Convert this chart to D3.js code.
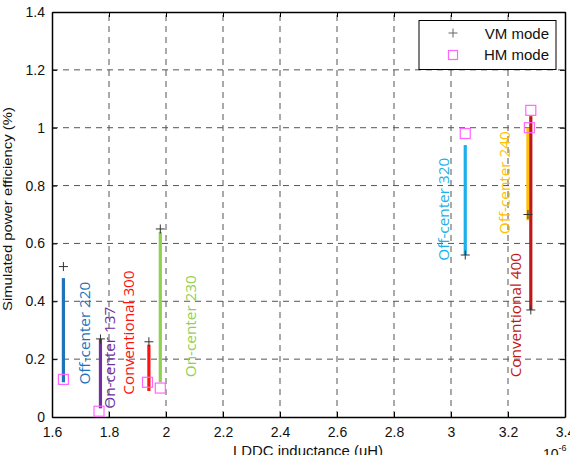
<!DOCTYPE html>
<html><head><meta charset="utf-8">
<script src="https://cdn.jsdelivr.net/npm/d3@7"></script>
<style>
html,body{margin:0;padding:0;background:#fff;overflow:hidden}
svg{display:block}
</style></head>
<body>
<script>
// ---- data ----
const designs = ["Off-center 220","On-center 137","Conventional 300","On-center 230","Off-center 320","Off-center 240","Conventional 400"];
const colors = ["#1f73ba","#7030a0","#ff1010","#92d050","#1cb0ea","#ffc000","#c01818"];
const inductance = [1.64, 1.77, 1.94, 1.98, 3.05, 3.27, 3.28];   // x 1e-6 H
const vmMode = [0.52, 0.27, 0.26, 0.65, 0.56, 0.70, 0.37];
const hmMode = [0.13, 0.02, 0.12, 0.10, 0.98, 1.00, 1.06];
const hmX    = [1.64, 1.765, 1.935, 1.98, 3.05, 3.275, 3.28];
const lineLo = [0.12, 0.03, 0.09, 0.12, 0.56, 0.68, 0.37];
const lineHi = [0.48, 0.27, 0.25, 0.64, 0.94, 1.00, 1.04];
const lineX  = [1.64, 1.77, 1.94, 1.98, 3.05, 3.27, 3.28];
// annotation anchors (data units)
const labelX = [1.712, 1.80, 1.867, 2.084, 2.972, 3.186, 3.225];
const labelY = [0.29, 0.205, 0.292, 0.314, 0.718, 0.81, 0.352];
const xTicks = [1.6,1.8,2,2.2,2.4,2.6,2.8,3,3.2,3.4];
const xTickLabels = ["1.6","1.8","2","2.2","2.4","2.6","2.8","3","3.2","3.4"];
const yTicks = [0,0.2,0.4,0.6,0.8,1,1.2,1.4];
const yTickLabels = ["0","0.2","0.4","0.6","0.8","1","1.2","1.4"];

const W = 570, H = 455;
const m = {left:52, right:565, top:12, bottom:417};
const svg = d3.select("body").append("svg").attr("width",W).attr("height",H);
const x = d3.scaleLinear().domain([1.6,3.4]).range([m.left,m.right]);
const y = d3.scaleLinear().domain([0,1.4]).range([m.bottom,m.top]);

const font = "'Liberation Sans', Arial, sans-serif";
// grid
const grid = svg.append("g").attr("stroke","#555").attr("stroke-width",1).attr("stroke-dasharray","6,5");
xTicks.slice(1,-1).forEach(t=>grid.append("line").attr("x1",x(t)).attr("x2",x(t)).attr("y1",m.bottom).attr("y2",m.top));
yTicks.slice(1,-1).forEach(t=>grid.append("line").attr("y1",y(t)).attr("y2",y(t)).attr("x1",m.left).attr("x2",m.right));

// axes
const axB = d3.axisBottom(x).tickValues(xTicks).tickFormat((d,i)=>xTickLabels[i]).tickSizeInner(-5).tickSizeOuter(0).tickPadding(10);
const axL = d3.axisLeft(y).tickValues(yTicks).tickFormat((d,i)=>yTickLabels[i]).tickSizeInner(-5).tickSizeOuter(0).tickPadding(7);
const axT = d3.axisTop(x).tickValues(xTicks).tickFormat("").tickSizeInner(-5).tickSizeOuter(0);
const axR = d3.axisRight(y).tickValues(yTicks).tickFormat("").tickSizeInner(-5).tickSizeOuter(0);
[[axB,`translate(0,${m.bottom})`],[axL,`translate(${m.left},0)`],[axT,`translate(0,${m.top})`],[axR,`translate(${m.right},0)`]].forEach(([a,t])=>{
  const g = svg.append("g").attr("transform",t).call(a);
  g.selectAll("path").attr("stroke","#000").attr("stroke-width",1.5);
  g.selectAll("line").attr("stroke","#000");
  g.selectAll("text").attr("font-family",font).attr("font-size",14).attr("fill","#111");
});

// vertical colored lines
svg.append("g").selectAll("line").data(designs).join("line")
  .attr("x1",(d,i)=>x(lineX[i])).attr("x2",(d,i)=>x(lineX[i]))
  .attr("y1",(d,i)=>y(lineLo[i])).attr("y2",(d,i)=>y(lineHi[i]))
  .attr("stroke",(d,i)=>colors[i]).attr("stroke-width",3.2);

// labels
svg.append("g").selectAll("text").data(designs).join("text")
  .attr("transform",(d,i)=>`translate(${x(labelX[i])},${y(labelY[i])}) rotate(-90)`)
  .attr("text-anchor","middle").attr("dominant-baseline","central")
  .attr("font-family","'Open Sans', sans-serif").attr("font-size",15.3)
  .attr("fill",(d,i)=>colors[i]).text(d=>d);

// VM markers (+)
function plusPath(s){return `M${-s},0H${s}M0,${-s}V${s}`;}
svg.append("g").selectAll("path").data(vmMode).join("path")
  .attr("d",plusPath(4.5))
  .attr("transform",(d,i)=>`translate(${x(inductance[i])},${y(d)})`)
  .attr("stroke","#333").attr("stroke-width",1).attr("fill","none");
// HM markers (squares)
svg.append("g").selectAll("rect").data(hmMode).join("rect")
  .attr("x",(d,i)=>x(hmX[i])-5).attr("y",d=>y(d)-5).attr("width",10).attr("height",10)
  .attr("fill","none").attr("stroke","#ff66ff").attr("stroke-width",1.2);

// legend
const lg = svg.append("g");
lg.append("rect").attr("x",419).attr("y",20.5).attr("width",137).attr("height",49).attr("fill","#fff").attr("stroke","#000").attr("stroke-width",1);
lg.append("path").attr("d",plusPath(4.5)).attr("transform","translate(453,33)").attr("stroke","#666").attr("fill","none");
lg.append("rect").attr("x",448.5).attr("y",50.5).attr("width",9).attr("height",9).attr("fill","none").attr("stroke","#ff66ff").attr("stroke-width",1.2);
lg.append("text").attr("x",549).attr("y",39).attr("text-anchor","end").attr("font-family",font).attr("font-size",15).attr("fill","#111").text("VM mode");
lg.append("text").attr("x",549).attr("y",60).attr("text-anchor","end").attr("font-family",font).attr("font-size",15).attr("fill","#111").text("HM mode");

// axis titles
svg.append("text").attr("transform",`translate(12,${209}) rotate(-90)`).attr("text-anchor","middle")
  .attr("font-family",font).attr("font-size",13).attr("textLength",204).attr("lengthAdjust","spacingAndGlyphs")
  .attr("fill","#111").text("Simulated power efficiency (%)");
svg.append("text").attr("x",308).attr("y",456).attr("text-anchor","middle")
  .attr("font-family",font).attr("font-size",14).attr("textLength",150).attr("lengthAdjust","spacingAndGlyphs")
  .attr("fill","#111").text("LDDC inductance (uH)");
const ex = svg.append("text").attr("x",543).attr("y",459).attr("font-family",font).attr("font-size",14).attr("fill","#111");
ex.append("tspan").text("10");
ex.append("tspan").attr("dy",-8).attr("font-size",9).text("-6");
</script>
</body></html>
